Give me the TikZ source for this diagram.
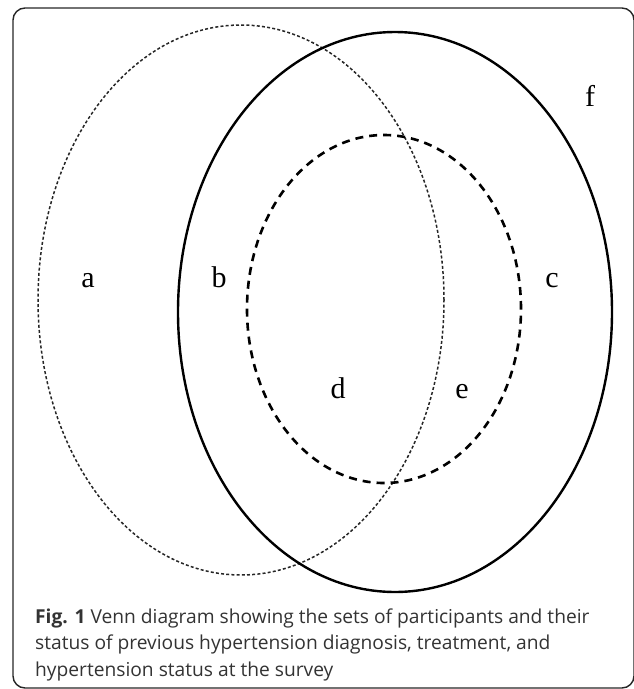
\documentclass[tikz,border=0pt]{standalone}
\usepackage{fontspec}
\setmainfont{Liberation Serif}
\newfontfamily\capfont{Open Sans}
\usetikzlibrary{positioning}

\begin{document}
\begin{tikzpicture}[x=1pt,y=-1pt]
        \tikzset{setlbl/.style={font=\fontsize{30}{34}\selectfont,anchor=base,inner sep=0pt},
                 capline/.style={font=\capfont\fontsize{19.2}{22}\selectfont,text=black!80,anchor=base west,inner sep=0pt}}
        \useasboundingbox (0,0) rectangle (634,689);
        \clip (0,0) rectangle (634,689);
        \draw[line width=1.4pt,black!85,rounded corners=12pt] (13,8) rectangle (634,688);
        % the three sets
        \draw[line width=1.5pt,black!85,dash pattern=on 3pt off 2.2pt] (241,300) ellipse [x radius=203pt,y radius=275pt];
        \draw[line width=2.4pt] (395,312) ellipse [x radius=217pt,y radius=280pt];
        \draw[line width=2.6pt,dash pattern=on 8pt off 6pt] (384,309) ellipse [x radius=137pt,y radius=174pt];
        % labels
        \node[setlbl](a)at(88,287){a};
        \node[setlbl](b)at(219,287){b};
        \node[setlbl](c)at(552,287){c};
        \node[setlbl](d)at(338,398){d};
        \node[setlbl](e)at(462,398){e};
        \node[setlbl](f)at(590,106){f};
        % caption
        \node[capline](cap1)at(35,623){\textbf{Fig. 1} Venn diagram showing the sets of participants and their};
        \node[capline](cap2)at(35,649){status of previous hypertension diagnosis, treatment, and};
        \node[capline](cap3)at(35,676){hypertension status at the survey};
    \end{tikzpicture}
\end{document}
